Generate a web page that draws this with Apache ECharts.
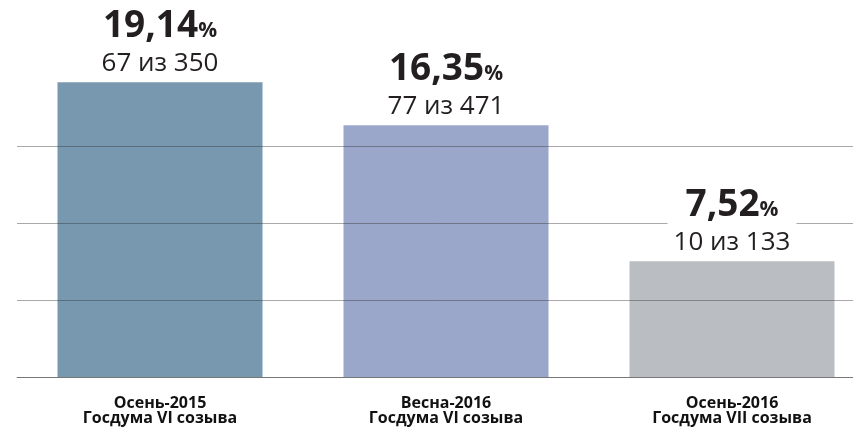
<!DOCTYPE html>
<html>
<head>
<meta charset="utf-8">
<script src="https://cdn.jsdelivr.net/npm/echarts@6/dist/echarts.min.js"></script>
<style>
  html, body { margin: 0; padding: 0; background: #fff; }
  #main { width: 853px; height: 433px; }
</style>
</head>
<body>
<div id="main"></div>
<script>
// данные
var categories = ['Осень-2015\nГосдума VI созыва', 'Весна-2016\nГосдума VI созыва', 'Осень-2016\nГосдума VII созыва'];
var percents = [19.14, 16.35, 7.52];
var counts = ['67 из 350', '77 из 471', '10 из 133'];
var barColors = ['#7898b0', '#9ba6cb', '#babec2'];
var yTicks = [0, 5, 10, 15, 20];

var chart = echarts.init(document.getElementById('main'));

var lineColor = 'rgba(50,50,50,0.42)';

var option = {
  animation: false,
  grid: { left: 17, top: 69, width: 858, height: 308, outerBoundsMode: 'none' },
  xAxis: {
    type: 'category',
    data: categories,
    z: 3,
    axisLine: { lineStyle: { color: lineColor, width: 1 } },
    axisTick: { show: false },
    axisLabel: {
      margin: 19,
      fontFamily: 'Open Sans',
      fontWeight: 'bold',
      fontSize: 16,
      lineHeight: 15,
      color: '#111'
    }
  },
  yAxis: {
    type: 'value',
    min: yTicks[0],
    max: yTicks[yTicks.length - 1],
    interval: 5,
    z: 3,
    axisLine: { show: false },
    axisTick: { show: false },
    axisLabel: { show: false },
    splitLine: {
      // верхняя линия (20%) не видна
      lineStyle: { color: [lineColor, lineColor, lineColor, lineColor, 'rgba(0,0,0,0)'] }
    }
  },
  series: [
    {
      // столбцы (под линиями сетки)
      type: 'bar',
      z: 2,
      barWidth: 205,
      data: percents.map(function (v, i) {
        return { value: v, itemStyle: { color: barColors[i] } };
      })
    },
    {
      // подписи (над линиями сетки)
      type: 'bar',
      z: 4,
      barWidth: 205,
      barGap: '-100%',
      itemStyle: { color: 'rgba(0,0,0,0)' },
      data: percents,
      label: {
        show: true,
        position: 'top',
        distance: 7,
        backgroundColor: '#fff',
        padding: [0, 6],
        formatter: function (p) {
          var v = percents[p.dataIndex].toFixed(2).replace('.', ',');
          return '{v|' + v + '}{p|%}\n{n|' + counts[p.dataIndex] + '}';
        },
        rich: {
          v: { fontFamily: 'Open Sans', fontWeight: 'bold', fontSize: 37, lineHeight: 40, color: '#231f20', verticalAlign: 'bottom' },
          p: { fontFamily: 'Open Sans', fontWeight: 'bold', fontSize: 21, lineHeight: 40, color: '#231f20', verticalAlign: 'bottom', padding: [0, 0, 4, 0] },
          n: { fontFamily: 'Open Sans', fontSize: 26, lineHeight: 30, color: '#231f20', align: 'center', padding: [6, 0, 0, 0] }
        }
      }
    }
  ]
};

chart.setOption(option);
</script>
</body>
</html>
